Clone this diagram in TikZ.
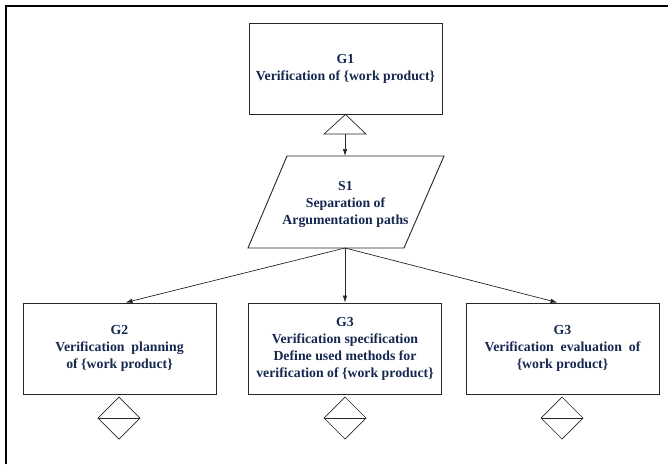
\documentclass[tikz,border=0pt]{standalone}
\usepackage{fontspec}
\setmainfont{Liberation Serif}
\usetikzlibrary{arrows.meta,calc}
\definecolor{navy}{RGB}{22,40,80}
\tikzset{
  goalbox/.style={draw=black!85,line width=0.9pt,minimum width=193pt,minimum height=91pt,inner sep=0pt,align=center,
    font=\fontsize{13.8}{17}\selectfont\bfseries,text=navy},
  lbl/.style={align=center,font=\fontsize{13.8}{17}\selectfont\bfseries,text=navy},
  edge/.style={draw=black!85,line width=0.7pt},
  arr/.style={edge,-{Latex[length=7pt,width=4.5pt]}},
}
\begin{document}
\begin{tikzpicture}[x=1pt,y=-1pt]
\useasboundingbox (0,0) rectangle (668,464);
% frame
\draw[line width=1.3pt] (6,464) -- (6,6) -- (668,6);
% G1
\node[goalbox] (g1) at (345.5,68.5) {G1\\Verification of \{work product\}};
% triangle
\coordinate (tl) at (324,134);
\coordinate (tr) at (366,134);
\coordinate (tb) at (345,134);
\draw[edge] (g1.south) -- (tl) -- (tr) -- cycle;
% S1 parallelogram
\coordinate (p1) at (287,156);
\coordinate (p2) at (444,156);
\coordinate (p3) at (404,248);
\coordinate (p4) at (248,248);
\coordinate (s1top) at (345,156);
\coordinate (s1bot) at (345,248);
\draw[edge,line width=0.9pt] (p1) -- (p2) -- (p3) -- (p4) -- cycle;
\node[lbl] (s1) at (345.5,204) {S1\\Separation of\\Argumentation paths};
\draw[arr] (tb) -- (s1top);
% lower goals
\node[goalbox] (g2) at (119.5,348.5) {G2\\Verification\ \ planning\\of \{work product\}};
\node[goalbox] (g3) at (345,348.5) {G3\\Verification specification\\Define used methods for\\verification of \{work product\}};
\node[goalbox] (g4) at (562.5,348.5) {G3\\Verification\ \ evaluation\ \ of\\\{work product\}};
\draw[arr] (s1bot) -- ([xshift=6pt]g2.north);
\draw[arr] (s1bot) -- (g3.north);
\draw[arr] (s1bot) -- ([xshift=-5pt]g4.north);
% diamonds
\foreach \n/\cx in {d2/119, d3/345, d4/562}{
  \coordinate (\n) at (\cx,418);
  \draw[edge] ($(\n)+(0,-21)$) -- ($(\n)+(21,0)$) -- ($(\n)+(0,21)$) -- ($(\n)+(-21,0)$) -- cycle;
  \draw[edge] ($(\n)+(-21,0)$) -- ($(\n)+(21,0)$);
}
\end{tikzpicture}
\end{document}
